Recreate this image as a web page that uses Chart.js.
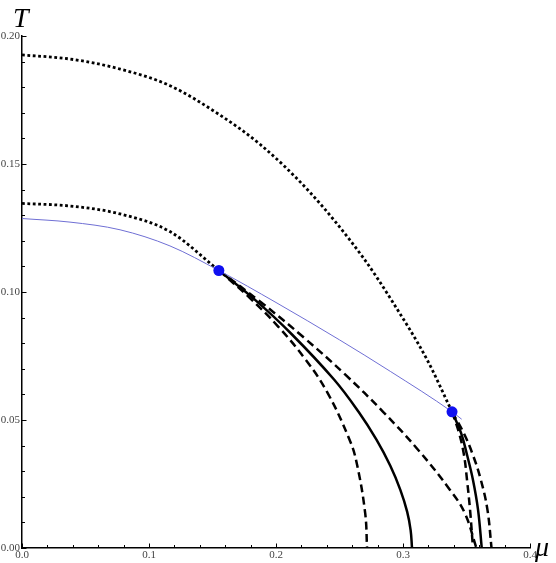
<!DOCTYPE html>
<html>
<head>
<meta charset="utf-8">
<script src="https://cdn.jsdelivr.net/npm/chart.js@4"></script>
<style>
  html, body { margin: 0; padding: 0; background: #fff; }
  #wrap { width: 556px; height: 563px; }
</style>
</head>
<body>
<div id="wrap"><canvas id="phase"></canvas></div>
<script>
// axis ranges / tick labels
var X_TICKS = [0.0, 0.1, 0.2, 0.3, 0.4];
var Y_TICKS = [0.00, 0.05, 0.10, 0.15, 0.20];

// critical end points (mu, T)
var critMu = [0.155, 0.3386];
var critT  = [0.1084, 0.0532];

// outer crossover (dotted)
var outerDotMu = [0.000, 0.0378, 0.0772, 0.1165, 0.1559, 0.1874, 0.2268, 0.2685, 0.2921, 0.3189, 0.3386];
var outerDotT  = [0.1926, 0.1910, 0.1871, 0.1806, 0.1691, 0.1577, 0.1389, 0.1135, 0.0959, 0.0736, 0.0532];

// inner crossover (dotted)
var innerDotMu = [0.000, 0.0378, 0.0772, 0.1165, 0.155];
var innerDotT  = [0.1346, 0.1336, 0.1305, 0.1236, 0.1084];

// thin blue line
var blueMu = [0.000, 0.0378, 0.0772, 0.1165, 0.155, 0.200, 0.250, 0.290, 0.3386, 0.3462];
var blueT  = [0.1287, 0.1273, 0.1243, 0.1180, 0.1084, 0.0959, 0.0813, 0.0690, 0.0532, 0.0503];

// lines starting at the first point
var a1Mu = [0.1551, 0.1791, 0.2017, 0.2233, 0.2405, 0.2579, 0.2635, 0.2702, 0.2717];
var a1T  = [0.1084, 0.0978, 0.0865, 0.0736, 0.0607, 0.0423, 0.0333, 0.0137, 0.0];
var a2Mu = [0.1551, 0.1831, 0.2126, 0.2457, 0.2650, 0.2791, 0.2900, 0.2979, 0.3033, 0.3060, 0.3071];
var a2T  = [0.1084, 0.0971, 0.0834, 0.0658, 0.0532, 0.0423, 0.0321, 0.0227, 0.0141, 0.0070, 0.0];
var a3Mu = [0.1551, 0.1884, 0.2210, 0.2546, 0.2843, 0.3118, 0.3370, 0.3486, 0.3578];
var a3T  = [0.1084, 0.0959, 0.0826, 0.0677, 0.0532, 0.0384, 0.0227, 0.0137, 0.0];

// lines starting at the second point
var b1Mu = [0.3386, 0.3441, 0.3480, 0.3504, 0.3528, 0.3551];
var b1T  = [0.0532, 0.0450, 0.0364, 0.0266, 0.0149, 0.0];
var b2Mu = [0.3386, 0.3457, 0.3504, 0.3551, 0.3591, 0.3620];
var b2T  = [0.0532, 0.0450, 0.0364, 0.0266, 0.0149, 0.0];
var b3Mu = [0.3386, 0.3477, 0.3550, 0.3613, 0.3665, 0.3697];
var b3T  = [0.0532, 0.0450, 0.0364, 0.0266, 0.0149, 0.0];

function pts(xs, ys) {
  return xs.map(function (x, i) { return { x: x, y: ys[i] }; });
}

var DOT = [2.8, 2.6];
var DASH = [8, 4.5];

// smooth: 'monotone' for curves running left to right, otherwise plain bezier
function curve(xs, ys, dash, width, smooth) {
  var ds = {
    data: pts(xs, ys),
    showLine: true,
    borderColor: '#000',
    borderWidth: width,
    borderDash: dash,
    pointRadius: 0,
    fill: false
  };
  if (smooth === 'monotone') ds.cubicInterpolationMode = 'monotone';
  else ds.tension = 0.4;
  return ds;
}

var SERIF = '"Liberation Serif", "DejaVu Serif", serif';

// inward tick marks + axis symbols
var axisDecor = {
  id: 'axisDecor',
  afterDraw: function (chart) {
    var ctx = chart.ctx;
    var xs = chart.scales.x, ys = chart.scales.y;
    var area = chart.chartArea;
    ctx.save();
    ctx.strokeStyle = '#000';
    ctx.lineWidth = 1;
    var i, v, p, len;
    for (i = 0; i <= 20; i++) {
      v = i * 0.02;
      p = Math.round(xs.getPixelForValue(v)) + 0.5;
      len = (i % 5 === 0) ? 4.5 : 3;
      ctx.beginPath();
      ctx.moveTo(p, area.bottom);
      ctx.lineTo(p, area.bottom - len);
      ctx.stroke();
    }
    for (i = 0; i <= 20; i++) {
      v = i * 0.01;
      p = Math.round(ys.getPixelForValue(v)) + 0.5;
      len = (i % 5 === 0) ? 4.5 : 3;
      ctx.beginPath();
      ctx.moveTo(area.left, p);
      ctx.lineTo(area.left + len, p);
      ctx.stroke();
    }
    ctx.fillStyle = '#000';
    ctx.font = 'italic 28px ' + SERIF;
    ctx.textAlign = 'left';
    ctx.textBaseline = 'alphabetic';
    ctx.fillText('T', area.left - 9, area.top - 9);
    ctx.fillText('\u03bc', area.right + 5, area.bottom + 8);
    ctx.restore();
  }
};

var ctx = document.getElementById('phase').getContext('2d');
new Chart(ctx, {
  type: 'scatter',
  data: {
    datasets: [
      {
        data: pts(critMu, critT),
        pointRadius: 5.5,
        pointBackgroundColor: '#1010f0',
        pointBorderWidth: 0,
        showLine: false
      },
      {
        data: pts(blueMu, blueT),
        showLine: true,
        borderColor: '#6f6fd4',
        borderWidth: 1,
        pointRadius: 0,
        cubicInterpolationMode: 'monotone'
      },
      curve(outerDotMu, outerDotT, DOT, 2.8, 'monotone'),
      curve(innerDotMu, innerDotT, DOT, 2.8, 'monotone'),
      curve(a1Mu, a1T, DASH, 2.5),
      curve(a2Mu, a2T, [], 2.5),
      curve(a3Mu, a3T, DASH, 2.5),
      curve(b1Mu, b1T, DASH, 2.5),
      curve(b2Mu, b2T, [], 2.5),
      curve(b3Mu, b3T, DASH, 2.5)
    ]
  },
  options: {
    responsive: true,
    maintainAspectRatio: false,
    animation: false,
    layout: { padding: { top: 36, right: 26, left: 0, bottom: 0 } },
    plugins: { legend: { display: false }, tooltip: { enabled: false } },
    scales: {
      x: {
        type: 'linear',
        min: 0, max: 0.4,
        afterFit: function (s) { s.height = 15; },
        afterBuildTicks: function (s) { s.ticks = X_TICKS.map(function (v) { return { value: v }; }); },
        ticks: {
          padding: 1,
          color: '#444',
          font: { family: SERIF, size: 11 },
          maxRotation: 0,
          callback: function (v) { return v.toFixed(1); }
        },
        grid: { display: false, drawTicks: false },
        border: { display: true, color: '#000', width: 1.5 }
      },
      y: {
        type: 'linear',
        min: 0, max: 0.2,
        afterFit: function (s) { s.width = 22; },
        afterBuildTicks: function (s) { s.ticks = Y_TICKS.map(function (v) { return { value: v }; }); },
        ticks: {
          padding: 2,
          color: '#444',
          font: { family: SERIF, size: 11 },
          callback: function (v) { return v.toFixed(2); }
        },
        grid: { display: false, drawTicks: false },
        border: { display: true, color: '#000', width: 1.5 }
      }
    }
  },
  plugins: [axisDecor]
});
</script>
</body>
</html>
